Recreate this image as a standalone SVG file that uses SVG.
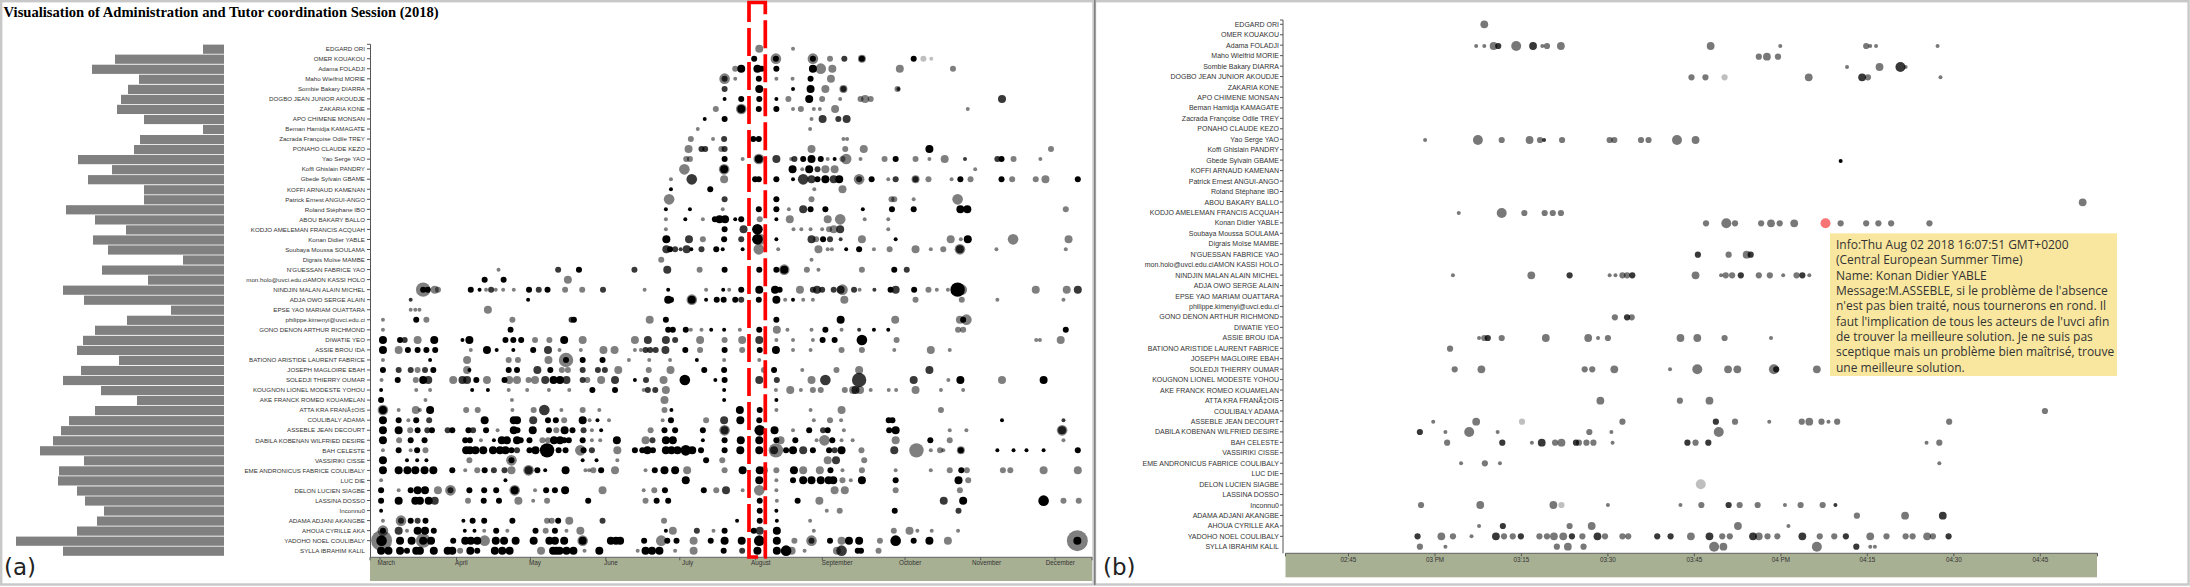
<svg xmlns="http://www.w3.org/2000/svg" xmlns:xlink="http://www.w3.org/1999/xlink" width="2190" height="587" viewBox="0 0 2190 587">
<style>
text{font-family:"Liberation Sans",Arial,sans-serif;fill:#333}
.title{font-family:"Liberation Serif","Times New Roman",serif;font-weight:bold;font-size:14.6px;fill:#000}
.nl{font-size:6.2px;text-anchor:end}
.nr{font-size:7px;text-anchor:end}
.mo{font-size:6.3px}
.tl{font-size:6.3px;text-anchor:middle}
.pl{font-family:"DejaVu Sans",sans-serif;font-size:23px;fill:#222}
.dots{fill:#000;fill-opacity:.5}
.dots.rb{fill-opacity:.53}
.k{fill-opacity:1}.m{fill-opacity:.78}.l{fill-opacity:.25}
.bar{fill:#808080}
.ax{stroke:#555;stroke-width:1;fill:none}
.band{fill:#a8b094}
.frame{fill:none;stroke:#c8c8c8;stroke-width:2.4}
.tip text{font-family:"Open Sans",sans-serif;font-size:12px;fill:#333}
</style>
<defs>
<ellipse id="a" rx="4.3" ry="6"/>
<ellipse id="b" rx="6.5" ry="9"/>
<ellipse id="c" rx="8.65" ry="12"/>
<ellipse id="d" rx="11.5" ry="15.9"/>
<ellipse id="e" rx="15.6" ry="21.6"/>
<ellipse id="f" rx="22.7" ry="31.5"/>
<ellipse id="A" rx="3.45" ry="6"/>
<ellipse id="B" rx="5.35" ry="9.3"/>
<ellipse id="C" rx="6.7" ry="11.7"/>
<ellipse id="D" rx="8.6" ry="15"/>
</defs>
<rect width="2190" height="587" fill="#fff"/>

<g id="panel-a">
<rect class="frame" x="1.2" y="1.2" width="1092.3" height="583.3"/>
<text class="title" x="3.6" y="16.7">Visualisation of Administration and Tutor coordination Session (2018)</text>
<g id="bars-a" class="bar">
<rect x="203" y="44.6" width="21" height="9.2"/>
<rect x="115" y="54.6" width="109" height="9.2"/>
<rect x="92" y="64.7" width="132" height="9.2"/>
<rect x="139" y="74.7" width="85" height="9.2"/>
<rect x="128" y="84.8" width="96" height="9.2"/>
<rect x="121" y="94.8" width="103" height="9.2"/>
<rect x="117" y="104.8" width="107" height="9.2"/>
<rect x="144" y="114.9" width="80" height="9.2"/>
<rect x="203" y="124.9" width="21" height="9.2"/>
<rect x="140" y="135" width="84" height="9.2"/>
<rect x="134" y="145" width="90" height="9.2"/>
<rect x="78" y="155" width="146" height="9.2"/>
<rect x="112" y="165.1" width="112" height="9.2"/>
<rect x="88" y="175.1" width="136" height="9.2"/>
<rect x="144" y="185.2" width="80" height="9.2"/>
<rect x="144" y="195.2" width="80" height="9.2"/>
<rect x="66" y="205.2" width="158" height="9.2"/>
<rect x="95" y="215.3" width="129" height="9.2"/>
<rect x="126" y="225.3" width="98" height="9.2"/>
<rect x="93" y="235.4" width="131" height="9.2"/>
<rect x="108" y="245.4" width="116" height="9.2"/>
<rect x="183" y="255.4" width="41" height="9.2"/>
<rect x="102" y="265.5" width="122" height="9.2"/>
<rect x="148" y="275.5" width="76" height="9.2"/>
<rect x="63" y="285.6" width="161" height="9.2"/>
<rect x="84" y="295.6" width="140" height="9.2"/>
<rect x="171" y="305.6" width="53" height="9.2"/>
<rect x="127" y="315.7" width="97" height="9.2"/>
<rect x="95" y="325.7" width="129" height="9.2"/>
<rect x="83" y="335.8" width="141" height="9.2"/>
<rect x="77" y="345.8" width="147" height="9.2"/>
<rect x="119" y="355.8" width="105" height="9.2"/>
<rect x="81" y="365.9" width="143" height="9.2"/>
<rect x="63" y="375.9" width="161" height="9.2"/>
<rect x="101" y="386" width="123" height="9.2"/>
<rect x="137" y="396" width="87" height="9.2"/>
<rect x="95" y="406" width="129" height="9.2"/>
<rect x="69" y="416.1" width="155" height="9.2"/>
<rect x="61" y="426.1" width="163" height="9.2"/>
<rect x="53" y="436.2" width="171" height="9.2"/>
<rect x="40" y="446.2" width="184" height="9.2"/>
<rect x="84" y="456.2" width="140" height="9.2"/>
<rect x="59" y="466.3" width="165" height="9.2"/>
<rect x="58" y="476.3" width="166" height="9.2"/>
<rect x="77" y="486.4" width="147" height="9.2"/>
<rect x="85" y="496.4" width="139" height="9.2"/>
<rect x="104" y="506.4" width="120" height="9.2"/>
<rect x="97" y="516.5" width="127" height="9.2"/>
<rect x="77" y="526.5" width="147" height="9.2"/>
<rect x="16" y="536.6" width="208" height="9.2"/>
<rect x="63" y="546.6" width="161" height="9.2"/>
</g>
<g id="names-a">
<text class="nl" x="365" y="50.9">EDGARD ORI</text>
<text class="nl" x="365" y="60.9">OMER KOUAKOU</text>
<text class="nl" x="365" y="71">Adama FOLADJI</text>
<text class="nl" x="365" y="81">Maho Wielfrid MORIE</text>
<text class="nl" x="365" y="91.1">Sombie Bakary DIARRA</text>
<text class="nl" x="365" y="101.1">DOGBO JEAN JUNIOR AKOUDJE</text>
<text class="nl" x="365" y="111.1">ZAKARIA KONE</text>
<text class="nl" x="365" y="121.2">APO CHIMENE MONSAN</text>
<text class="nl" x="365" y="131.2">Beman Hamidja KAMAGATE</text>
<text class="nl" x="365" y="141.3">Zacrada Françoise Odile TREY</text>
<text class="nl" x="365" y="151.3">PONAHO CLAUDE KEZO</text>
<text class="nl" x="365" y="161.3">Yao Serge YAO</text>
<text class="nl" x="365" y="171.4">Koffi Ghislain PANDRY</text>
<text class="nl" x="365" y="181.4">Gbede Sylvain GBAME</text>
<text class="nl" x="365" y="191.5">KOFFI ARNAUD KAMENAN</text>
<text class="nl" x="365" y="201.5">Patrick Ernest ANGUI-ANGO</text>
<text class="nl" x="365" y="211.5">Roland Stéphane IBO</text>
<text class="nl" x="365" y="221.6">ABOU BAKARY BALLO</text>
<text class="nl" x="365" y="231.6">KODJO AMELEMAN FRANCIS ACQUAH</text>
<text class="nl" x="365" y="241.7">Konan Didier YABLE</text>
<text class="nl" x="365" y="251.7">Soubaya Moussa SOULAMA</text>
<text class="nl" x="365" y="261.7">Digrais Moïse MAMBE</text>
<text class="nl" x="365" y="271.8">N'GUESSAN FABRICE YAO</text>
<text class="nl" x="365" y="281.8">mon.holo@uvci.edu.ciAMON KASSI HOLO</text>
<text class="nl" x="365" y="291.9">NINDJIN MALAN ALAIN MICHEL</text>
<text class="nl" x="365" y="301.9">ADJA OWO SERGE ALAIN</text>
<text class="nl" x="365" y="311.9">EPSE YAO MARIAM OUATTARA</text>
<text class="nl" x="365" y="322">philippe.kimenyi@uvci.edu.ci</text>
<text class="nl" x="365" y="332">GONO DENON ARTHUR RICHMOND</text>
<text class="nl" x="365" y="342.1">DIWATIE YEO</text>
<text class="nl" x="365" y="352.1">ASSIE BROU IDA</text>
<text class="nl" x="365" y="362.1">BATIONO ARISTIDE LAURENT FABRICE</text>
<text class="nl" x="365" y="372.2">JOSEPH MAGLOIRE EBAH</text>
<text class="nl" x="365" y="382.2">SOLEDJI THIERRY OUMAR</text>
<text class="nl" x="365" y="392.3">KOUGNON LIONEL MODESTE YOHOU</text>
<text class="nl" x="365" y="402.3">AKE FRANCK ROMEO KOUAMELAN</text>
<text class="nl" x="365" y="412.3">ATTA KRA FRANÃ‡OIS</text>
<text class="nl" x="365" y="422.4">COULIBALY ADAMA</text>
<text class="nl" x="365" y="432.4">ASSEBLE JEAN DECOURT</text>
<text class="nl" x="365" y="442.5">DABILA KOBENAN WILFRIED DESIRE</text>
<text class="nl" x="365" y="452.5">BAH CELESTE</text>
<text class="nl" x="365" y="462.5">VASSIRIKI CISSE</text>
<text class="nl" x="365" y="472.6">EME ANDRONICUS FABRICE COULIBALY</text>
<text class="nl" x="365" y="482.6">LUC DIE</text>
<text class="nl" x="365" y="492.7">DELON LUCIEN SIAGBE</text>
<text class="nl" x="365" y="502.7">LASSINA DOSSO</text>
<text class="nl" x="365" y="512.7">Inconnu0</text>
<text class="nl" x="365" y="522.8">ADAMA ADJANI AKANGBE</text>
<text class="nl" x="365" y="532.8">AHOUA CYRILLE AKA</text>
<text class="nl" x="365" y="542.9">YADOHO NOEL COULIBALY</text>
<text class="nl" x="365" y="552.9">SYLLA IBRAHIM KALIL</text>
</g>
<g id="axes-a">
<path class="ax" d="M367,44.3H370.5V557.3"/>
<path class="ax" d="M367,48.7h3m-3,10.04h3m-3,10.04h3m-3,10.04h3m-3,10.04h3m-3,10.04h3m-3,10.04h3m-3,10.04h3m-3,10.04h3m-3,10.04h3m-3,10.04h3m-3,10.04h3m-3,10.04h3m-3,10.04h3m-3,10.04h3m-3,10.04h3m-3,10.04h3m-3,10.04h3m-3,10.04h3m-3,10.04h3m-3,10.04h3m-3,10.04h3m-3,10.04h3m-3,10.04h3m-3,10.04h3m-3,10.04h3m-3,10.04h3m-3,10.04h3m-3,10.04h3m-3,10.04h3m-3,10.04h3m-3,10.04h3m-3,10.04h3m-3,10.04h3m-3,10.04h3m-3,10.04h3m-3,10.04h3m-3,10.04h3m-3,10.04h3m-3,10.04h3m-3,10.04h3m-3,10.04h3m-3,10.04h3m-3,10.04h3m-3,10.04h3m-3,10.04h3m-3,10.04h3m-3,10.04h3m-3,10.04h3m-3,10.04h3"/>
<rect class="band" x="370" y="558" width="722" height="23"/>
<path class="ax" d="M370,560.3V557.3H1092V560.3M380,557.3v3M456.5,557.3v3M530.4,557.3v3M605.8,557.3v3M679.8,557.3v3M755.7,557.3v3M822.3,557.3v3M905,557.3v3M980.7,557.3v3M1055,557.3v3"/>
<text class="mo" x="377.5" y="565.3">March</text>
<text class="mo" x="455" y="565.3">April</text>
<text class="mo" x="529" y="565.3">May</text>
<text class="mo" x="604" y="565.3">June</text>
<text class="mo" x="682" y="565.3">July</text>
<text class="mo" x="751" y="565.3">August</text>
<text class="mo" x="821.7" y="565.3">September</text>
<text class="mo" x="899" y="565.3">October</text>
<text class="mo" x="972" y="565.3">November</text>
<text class="mo" x="1045.7" y="565.3">December</text>
</g>
<g id="dots-a-top" class="dots" transform="translate(370,30) scale(0.46232,0.33333)">
<g transform="translate(0,56)"><use href="#c" x="842"/><use href="#a" x="915"/></g>
<g transform="translate(0,86)"><use href="#b" x="831" class="k"/><use href="#d" x="878"/><use href="#b" x="878" class="k"/><use href="#d" x="958"/><use href="#b" x="958" class="k"/><use href="#b" x="995"/><use href="#b" x="1026" class="m"/><use href="#c" x="1064"/><use href="#b" x="1064" class="k"/><use href="#b" x="1176" class="k"/><use href="#b" x="1197" class="l"/><use href="#a" x="1214" class="l"/></g>
<g transform="translate(0,116)"><use href="#b" x="790"/><use href="#c" x="803" class="k"/><use href="#c" x="838" class="k"/><use href="#b" x="847" class="k"/><use href="#b" x="879" class="k"/><use href="#c" x="958" class="k"/><use href="#d" x="975"/><use href="#c" x="1000"/><use href="#c" x="1146"/><use href="#b" x="1261"/></g>
<g transform="translate(0,146)"><use href="#d" x="767"/><use href="#b" x="767" class="m"/><use href="#a" x="790"/><use href="#b" x="841" class="k"/><use href="#a" x="879"/><use href="#a" x="914"/><use href="#b" x="953" class="k"/><use href="#c" x="997"/></g>
<g transform="translate(0,177)"><use href="#b" x="767" class="m"/><use href="#c" x="842" class="k"/><use href="#a" x="915" class="k"/><use href="#c" x="953" class="k"/><use href="#c" x="985"/><use href="#c" x="1024"/><use href="#b" x="1024" class="m"/><use href="#b" x="1141"/><use href="#a" x="1143" class="m"/></g>
<g transform="translate(0,207)"><use href="#a" x="767" class="k"/><use href="#b" x="803" class="k"/><use href="#b" x="842" class="k"/><use href="#a" x="879" class="k"/><use href="#b" x="905"/><use href="#c" x="950" class="k"/><use href="#b" x="978"/><use href="#a" x="1017"/><use href="#b" x="1061"/><use href="#c" x="1071"/><use href="#b" x="1083"/><use href="#c" x="1367" class="m"/></g>
<g transform="translate(0,237)"><use href="#b" x="748"/><use href="#d" x="803"/><use href="#c" x="803" class="k"/><use href="#b" x="841" class="k"/><use href="#b" x="879" class="k"/><use href="#a" x="915"/><use href="#b" x="932"/><use href="#a" x="960"/><use href="#a" x="973"/><use href="#c" x="1006"/><use href="#a" x="1293"/></g>
<g transform="translate(0,267)"><use href="#a" x="724" class="k"/><use href="#b" x="767" class="k"/><use href="#a" x="955"/><use href="#c" x="979" class="m"/><use href="#b" x="1013" class="m"/><use href="#c" x="1031" class="m"/></g>
<g transform="translate(0,297)"><use href="#a" x="709"/><use href="#a" x="952"/></g>
<g transform="translate(0,327)"><use href="#b" x="694"/><use href="#a" x="742"/><use href="#b" x="766" class="m"/><use href="#b" x="829" class="k"/><use href="#b" x="841" class="k"/><use href="#a" x="1024"/><use href="#a" x="1032"/></g>
<g transform="translate(0,357)"><use href="#c" x="689"/><use href="#b" x="717" class="m"/><use href="#b" x="725" class="m"/><use href="#b" x="760"/><use href="#b" x="767" class="m"/><use href="#c" x="955"/><use href="#b" x="1028"/><use href="#c" x="1068"/><use href="#c" x="1210" class="k"/><use href="#b" x="1473"/></g>
<g transform="translate(0,387)"><use href="#b" x="684"/><use href="#b" x="692"/><use href="#b" x="767" class="k"/><use href="#a" x="806"/><use href="#d" x="841"/><use href="#c" x="841" class="k"/><use href="#c" x="879" class="m"/><use href="#a" x="911"/><use href="#b" x="918" class="m"/><use href="#b" x="937" class="k"/><use href="#c" x="955" class="k"/><use href="#b" x="975" class="k"/><use href="#a" x="990"/><use href="#a" x="1005" class="k"/><use href="#b" x="1022"/><use href="#d" x="1030"/><use href="#a" x="1061"/><use href="#b" x="1113"/><use href="#b" x="1137" class="k"/><use href="#b" x="1180"/><use href="#a" x="1210"/><use href="#c" x="1243"/><use href="#a" x="1287" class="m"/><use href="#b" x="1357" class="m"/><use href="#b" x="1366" class="k"/><use href="#b" x="1392"/><use href="#a" x="1450"/></g>
<g transform="translate(0,418)"><use href="#d" x="680"/><use href="#d" x="766"/><use href="#c" x="766" class="k"/><use href="#c" x="914" class="k"/><use href="#a" x="935"/><use href="#c" x="950" class="k"/><use href="#b" x="968" class="m"/><use href="#c" x="985"/><use href="#c" x="1005"/><use href="#a" x="1309"/></g>
<g transform="translate(0,448)"><use href="#a" x="651"/><use href="#d" x="696" class="m"/><use href="#c" x="766"/><use href="#b" x="833" class="k"/><use href="#b" x="841" class="k"/><use href="#b" x="879" class="k"/><use href="#a" x="915" class="k"/><use href="#d" x="937" class="m"/><use href="#c" x="955" class="m"/><use href="#b" x="968" class="k"/><use href="#c" x="985" class="k"/><use href="#c" x="1003" class="m"/><use href="#c" x="1015" class="k"/><use href="#d" x="1058"/><use href="#b" x="1058" class="m"/><use href="#b" x="1085" class="k"/><use href="#a" x="1121"/><use href="#b" x="1137" class="m"/><use href="#c" x="1180"/><use href="#b" x="1180" class="m"/><use href="#b" x="1208"/><use href="#a" x="1258"/><use href="#b" x="1277" class="k"/><use href="#b" x="1299"/><use href="#b" x="1366" class="k"/><use href="#b" x="1389"/><use href="#b" x="1440"/><use href="#c" x="1461"/><use href="#b" x="1531" class="k"/></g>
<g transform="translate(0,478)"><use href="#a" x="651" class="k"/><use href="#b" x="736" class="k"/><use href="#a" x="961"/><use href="#c" x="1022"/></g>
<g transform="translate(0,508)"><use href="#d" x="647"/><use href="#b" x="767" class="m"/><use href="#b" x="879" class="k"/><use href="#b" x="955"/><use href="#b" x="1128"/><use href="#b" x="1134"/><use href="#a" x="1176"/><use href="#d" x="1271"/></g>
<g transform="translate(0,538)"><use href="#a" x="640" class="k"/><use href="#a" x="692" class="k"/><use href="#a" x="763"/><use href="#b" x="841" class="k"/><use href="#b" x="879" class="k"/><use href="#a" x="906"/><use href="#c" x="937" class="m"/><use href="#b" x="953" class="k"/><use href="#b" x="985" class="k"/><use href="#a" x="1066" class="k"/><use href="#b" x="1129" class="k"/><use href="#b" x="1176" class="k"/><use href="#c" x="1277" class="k"/><use href="#c" x="1292" class="k"/><use href="#b" x="1505"/></g>
<g transform="translate(0,568)"><use href="#a" x="640"/><use href="#a" x="682" class="k"/><use href="#a" x="720"/><use href="#b" x="746" class="k"/><use href="#c" x="756" class="k"/><use href="#c" x="768" class="k"/><use href="#a" x="790" class="k"/><use href="#b" x="803" class="k"/><use href="#b" x="843"/><use href="#a" x="879" class="k"/><use href="#c" x="908"/><use href="#c" x="990"/><use href="#d" x="1017"/><use href="#a" x="1070"/><use href="#a" x="1121"/></g>
<g transform="translate(0,598)"><use href="#a" x="640"/><use href="#b" x="767" class="k"/><use href="#c" x="808" class="m"/><use href="#d" x="838" class="k"/><use href="#a" x="916"/><use href="#a" x="933"/><use href="#a" x="953"/><use href="#a" x="978"/><use href="#b" x="993"/><use href="#c" x="1003"/><use href="#c" x="1017" class="m"/><use href="#a" x="1121"/></g>
<g transform="translate(0,628)"><use href="#c" x="641" class="k"/><use href="#c" x="690" class="m"/><use href="#b" x="720"/><use href="#b" x="766" class="k"/><use href="#b" x="803" class="m"/><use href="#d" x="838" class="k"/><use href="#d" x="845"/><use href="#a" x="879" class="k"/><use href="#c" x="955" class="m"/><use href="#b" x="965"/><use href="#b" x="980" class="k"/><use href="#b" x="995" class="m"/><use href="#a" x="1018" class="m"/><use href="#c" x="1064"/><use href="#a" x="1137" class="k"/><use href="#c" x="1256"/><use href="#a" x="1278"/><use href="#c" x="1293" class="k"/><use href="#d" x="1391"/><use href="#c" x="1511"/></g>
<g transform="translate(0,658)"><use href="#c" x="641" class="m"/><use href="#b" x="649" class="k"/><use href="#b" x="660" class="m"/><use href="#a" x="672" class="m"/><use href="#c" x="685" class="m"/><use href="#a" x="695" class="k"/><use href="#b" x="717" class="m"/><use href="#b" x="749" class="k"/><use href="#a" x="763" class="k"/><use href="#a" x="806" class="k"/><use href="#d" x="841"/><use href="#a" x="883"/><use href="#c" x="970"/><use href="#a" x="990"/><use href="#a" x="999"/><use href="#a" x="1030" class="k"/><use href="#b" x="1058" class="k"/><use href="#a" x="1090"/><use href="#b" x="1124"/><use href="#c" x="1180"/><use href="#a" x="1213"/><use href="#b" x="1240"/><use href="#d" x="1276"/><use href="#c" x="1276" class="m"/><use href="#a" x="1355"/><use href="#a" x="1505"/></g>
<g transform="translate(0,689)"><use href="#b" x="630"/><use href="#a" x="955"/></g>
<g transform="translate(0,719)"><use href="#a" x="278"/><use href="#b" x="407" class="m"/><use href="#b" x="452" class="k"/><use href="#b" x="572" class="m"/><use href="#c" x="643" class="m"/><use href="#b" x="713"/><use href="#b" x="767" class="k"/><use href="#b" x="842" class="k"/><use href="#b" x="879" class="k"/><use href="#d" x="896"/><use href="#c" x="896" class="k"/><use href="#b" x="945"/><use href="#a" x="970"/><use href="#b" x="1064"/><use href="#b" x="1134" class="k"/><use href="#b" x="1161" class="m"/></g>
<g transform="translate(0,749)"><use href="#b" x="248" class="k"/><use href="#b" x="289" class="k"/><use href="#c" x="428"/></g>
<g transform="translate(0,779)"><use href="#e" x="115"/><use href="#b" x="115" class="k"/><use href="#b" x="125" class="k"/><use href="#c" x="140"/><use href="#b" x="147"/><use href="#b" x="218" class="k"/><use href="#a" x="237" class="k"/><use href="#a" x="251"/><use href="#b" x="262" class="m"/><use href="#a" x="272"/><use href="#a" x="288"/><use href="#a" x="311"/><use href="#b" x="344" class="k"/><use href="#b" x="365" class="m"/><use href="#b" x="384" class="k"/><use href="#b" x="422"/><use href="#b" x="459"/><use href="#b" x="504" class="m"/><use href="#a" x="594"/><use href="#a" x="645" class="k"/><use href="#a" x="727"/><use href="#a" x="764" class="k"/><use href="#a" x="777"/><use href="#b" x="803" class="k"/><use href="#c" x="842" class="k"/><use href="#c" x="876" class="k"/><use href="#b" x="886" class="k"/><use href="#c" x="930"/><use href="#b" x="958" class="m"/><use href="#c" x="967" class="m"/><use href="#b" x="978" class="m"/><use href="#b" x="1003" class="m"/><use href="#c" x="1018" class="m"/><use href="#d" x="1022"/><use href="#b" x="1047" class="m"/><use href="#a" x="1059"/><use href="#a" x="1091" class="m"/><use href="#b" x="1126" class="k"/><use href="#c" x="1137" class="m"/><use href="#b" x="1177" class="k"/><use href="#b" x="1208"/><use href="#a" x="1226"/><use href="#a" x="1250"/><use href="#e" x="1271" class="k"/><use href="#d" x="1280"/><use href="#c" x="1440"/><use href="#c" x="1507"/><use href="#c" x="1531" class="m"/></g>
</g>
<g id="dots-a-bottom" class="dots" transform="translate(370,290) scale(0.46232,0.33333)">
<g transform="translate(0,29)"><use href="#a" x="88" class="m"/><use href="#a" x="342" class="k"/><use href="#c" x="645" class="k"/><use href="#b" x="651" class="k"/><use href="#d" x="696"/><use href="#c" x="696" class="k"/><use href="#a" x="727" class="k"/><use href="#b" x="750" class="k"/><use href="#b" x="765" class="k"/><use href="#b" x="790" class="k"/><use href="#b" x="803" class="m"/><use href="#b" x="841" class="k"/><use href="#c" x="879" class="k"/><use href="#a" x="898"/><use href="#a" x="915" class="k"/><use href="#a" x="937"/><use href="#a" x="958"/><use href="#c" x="1026"/><use href="#b" x="1180"/><use href="#b" x="1280"/><use href="#a" x="1357"/><use href="#a" x="1500"/></g>
<g transform="translate(0,59)"><use href="#a" x="88"/><use href="#a" x="98"/><use href="#a" x="107"/><use href="#c" x="255"/></g>
<g transform="translate(0,89)"><use href="#a" x="28"/><use href="#b" x="100" class="k"/><use href="#b" x="122"/><use href="#b" x="308"/><use href="#b" x="436" class="m"/><use href="#b" x="441" class="k"/><use href="#c" x="605"/><use href="#b" x="640" class="k"/><use href="#b" x="879" class="k"/><use href="#c" x="1018" class="k"/><use href="#c" x="1136"/><use href="#c" x="1276"/><use href="#d" x="1290"/><use href="#b" x="1283" class="k"/></g>
<g transform="translate(0,119)"><use href="#a" x="28"/><use href="#b" x="304" class="k"/><use href="#b" x="645" class="k"/><use href="#b" x="655" class="k"/><use href="#b" x="683" class="k"/><use href="#a" x="694"/><use href="#a" x="717"/><use href="#a" x="738" class="k"/><use href="#a" x="766" class="k"/><use href="#a" x="800"/><use href="#b" x="842" class="k"/><use href="#c" x="880"/><use href="#a" x="903"/><use href="#a" x="955"/><use href="#b" x="985" class="k"/><use href="#a" x="1020"/><use href="#a" x="1058" class="m"/><use href="#a" x="1090" class="k"/><use href="#a" x="1121" class="k"/><use href="#b" x="1272"/><use href="#b" x="1283"/><use href="#b" x="1505" class="k"/></g>
<g transform="translate(0,150)"><use href="#c" x="28" class="k"/><use href="#b" x="65" class="k"/><use href="#b" x="75" class="m"/><use href="#c" x="103"/><use href="#c" x="139" class="k"/><use href="#a" x="200" class="k"/><use href="#c" x="215" class="k"/><use href="#b" x="293" class="k"/><use href="#b" x="310" class="k"/><use href="#b" x="327" class="k"/><use href="#b" x="357"/><use href="#b" x="388"/><use href="#c" x="420" class="k"/><use href="#c" x="460"/><use href="#c" x="573"/><use href="#c" x="601" class="m"/><use href="#c" x="640" class="m"/><use href="#b" x="660" class="m"/><use href="#c" x="714"/><use href="#b" x="767"/><use href="#c" x="805"/><use href="#c" x="842" class="m"/><use href="#a" x="879"/><use href="#a" x="915"/><use href="#a" x="958"/><use href="#b" x="979" class="k"/><use href="#b" x="1005" class="k"/><use href="#d" x="1064" class="k"/><use href="#b" x="1139"/><use href="#a" x="1441"/><use href="#a" x="1449"/><use href="#c" x="1494"/></g>
<g transform="translate(0,180)"><use href="#c" x="28" class="k"/><use href="#c" x="62"/><use href="#b" x="82" class="k"/><use href="#b" x="103" class="k"/><use href="#b" x="122" class="k"/><use href="#b" x="141" class="k"/><use href="#a" x="218"/><use href="#c" x="253" class="k"/><use href="#a" x="274" class="k"/><use href="#a" x="310" class="k"/><use href="#b" x="353" class="k"/><use href="#c" x="385" class="m"/><use href="#a" x="410"/><use href="#a" x="456"/><use href="#c" x="505"/><use href="#c" x="529"/><use href="#a" x="573"/><use href="#a" x="586"/><use href="#b" x="596" class="m"/><use href="#b" x="606" class="m"/><use href="#b" x="618" class="m"/><use href="#c" x="639" class="m"/><use href="#b" x="682" class="k"/><use href="#b" x="714"/><use href="#b" x="767" class="k"/><use href="#b" x="805"/><use href="#b" x="843" class="k"/><use href="#c" x="878" class="k"/><use href="#a" x="915"/><use href="#a" x="953"/><use href="#b" x="1020"/><use href="#b" x="1064"/><use href="#a" x="1134"/><use href="#c" x="1213"/><use href="#a" x="1254"/></g>
<g transform="translate(0,210)"><use href="#a" x="28"/><use href="#a" x="130" class="k"/><use href="#c" x="210"/><use href="#b" x="300"/><use href="#b" x="320"/><use href="#c" x="386"/><use href="#e" x="424"/><use href="#b" x="424" class="k"/><use href="#b" x="460" class="k"/><use href="#b" x="503" class="k"/><use href="#a" x="560"/><use href="#a" x="604"/><use href="#a" x="649"/><use href="#a" x="707" class="k"/><use href="#a" x="766"/><use href="#a" x="842"/></g>
<g transform="translate(0,240)"><use href="#b" x="28" class="k"/><use href="#b" x="62" class="m"/><use href="#b" x="88" class="m"/><use href="#b" x="103"/><use href="#b" x="119" class="m"/><use href="#b" x="137" class="k"/><use href="#c" x="210"/><use href="#a" x="215" class="k"/><use href="#b" x="300" class="k"/><use href="#b" x="318" class="k"/><use href="#c" x="362" class="m"/><use href="#b" x="390" class="k"/><use href="#b" x="415"/><use href="#b" x="428"/><use href="#b" x="460" class="m"/><use href="#b" x="493" class="m"/><use href="#b" x="508" class="m"/><use href="#c" x="537"/><use href="#b" x="603"/><use href="#c" x="650"/><use href="#b" x="723" class="k"/><use href="#b" x="766" class="k"/><use href="#b" x="852"/><use href="#b" x="874" class="k"/><use href="#a" x="935"/><use href="#b" x="1009"/><use href="#c" x="1058"/><use href="#c" x="1210" class="m"/></g>
<g transform="translate(0,270)"><use href="#a" x="25"/><use href="#b" x="60" class="k"/><use href="#b" x="99"/><use href="#c" x="115" class="k"/><use href="#c" x="126" class="m"/><use href="#c" x="180"/><use href="#c" x="200" class="m"/><use href="#c" x="210" class="m"/><use href="#b" x="230" class="k"/><use href="#c" x="253"/><use href="#b" x="291" class="k"/><use href="#c" x="301"/><use href="#c" x="318"/><use href="#b" x="343"/><use href="#c" x="357"/><use href="#c" x="379" class="m"/><use href="#c" x="397" class="k"/><use href="#c" x="411" class="k"/><use href="#c" x="425" class="m"/><use href="#b" x="460" class="m"/><use href="#b" x="470"/><use href="#c" x="500"/><use href="#c" x="530" class="m"/><use href="#a" x="573" class="k"/><use href="#b" x="597" class="m"/><use href="#c" x="635"/><use href="#d" x="681" class="k"/><use href="#a" x="747" class="k"/><use href="#b" x="767" class="k"/><use href="#c" x="842" class="m"/><use href="#b" x="880" class="m"/><use href="#c" x="955"/><use href="#d" x="985" class="m"/><use href="#e" x="1058" class="m"/><use href="#c" x="1176" class="m"/><use href="#a" x="1251"/><use href="#c" x="1277" class="k"/><use href="#c" x="1367"/><use href="#c" x="1457" class="k"/></g>
<g transform="translate(0,300)"><use href="#a" x="24" class="k"/><use href="#a" x="100"/><use href="#a" x="130"/><use href="#a" x="221" class="k"/><use href="#a" x="255" class="k"/><use href="#a" x="300"/><use href="#a" x="340"/><use href="#a" x="387"/><use href="#a" x="431"/><use href="#b" x="481" class="k"/><use href="#b" x="530" class="k"/><use href="#a" x="592"/><use href="#b" x="601" class="m"/><use href="#b" x="617" class="m"/><use href="#c" x="640"/><use href="#a" x="766" class="k"/><use href="#a" x="878"/><use href="#c" x="909"/><use href="#a" x="932"/><use href="#b" x="958"/><use href="#b" x="975"/><use href="#b" x="1027"/><use href="#c" x="1045"/><use href="#c" x="1050" class="m"/><use href="#c" x="1060"/><use href="#a" x="1083"/><use href="#a" x="1122"/><use href="#a" x="1138"/><use href="#c" x="1180"/><use href="#a" x="1235"/><use href="#a" x="1283"/></g>
<g transform="translate(0,330)"><use href="#b" x="24" class="k"/><use href="#a" x="120"/><use href="#a" x="307"/><use href="#c" x="637"/><use href="#a" x="766" class="k"/><use href="#a" x="879" class="k"/></g>
<g transform="translate(0,360)"><use href="#d" x="28"/><use href="#c" x="28" class="k"/><use href="#a" x="62"/><use href="#c" x="99"/><use href="#a" x="108"/><use href="#c" x="130" class="k"/><use href="#b" x="208"/><use href="#b" x="233"/><use href="#a" x="308"/><use href="#b" x="354"/><use href="#d" x="377" class="m"/><use href="#a" x="414"/><use href="#b" x="460"/><use href="#a" x="496"/><use href="#b" x="637"/><use href="#a" x="652" class="k"/><use href="#c" x="800" class="k"/><use href="#b" x="843" class="k"/><use href="#a" x="879"/><use href="#a" x="953"/><use href="#c" x="1020"/><use href="#b" x="1235"/></g>
<g transform="translate(0,391)"><use href="#c" x="28" class="k"/><use href="#b" x="62" class="k"/><use href="#a" x="83"/><use href="#b" x="100" class="k"/><use href="#b" x="128" class="m"/><use href="#c" x="248" class="k"/><use href="#c" x="311" class="k"/><use href="#c" x="318" class="k"/><use href="#c" x="353" class="m"/><use href="#b" x="385" class="k"/><use href="#b" x="402" class="k"/><use href="#b" x="420"/><use href="#c" x="460" class="k"/><use href="#a" x="475"/><use href="#a" x="492" class="k"/><use href="#a" x="517"/><use href="#a" x="633"/><use href="#b" x="651" class="k"/><use href="#b" x="727"/><use href="#c" x="766" class="m"/><use href="#c" x="801" class="k"/><use href="#b" x="842" class="k"/><use href="#a" x="960"/><use href="#b" x="995"/><use href="#a" x="1019"/><use href="#b" x="1122" class="k"/><use href="#b" x="1130" class="k"/><use href="#a" x="1367" class="k"/><use href="#a" x="1500" class="m"/></g>
<g transform="translate(0,421)"><use href="#c" x="28" class="k"/><use href="#c" x="62" class="k"/><use href="#b" x="87"/><use href="#b" x="103" class="k"/><use href="#b" x="124" class="m"/><use href="#b" x="134" class="k"/><use href="#b" x="168" class="m"/><use href="#b" x="178" class="k"/><use href="#b" x="213" class="k"/><use href="#b" x="223" class="m"/><use href="#b" x="251" class="k"/><use href="#a" x="276"/><use href="#c" x="311" class="k"/><use href="#b" x="319" class="k"/><use href="#c" x="352" class="k"/><use href="#b" x="387" class="k"/><use href="#b" x="403"/><use href="#c" x="421" class="k"/><use href="#b" x="438" class="k"/><use href="#b" x="462" class="m"/><use href="#a" x="480"/><use href="#a" x="500" class="k"/><use href="#b" x="607"/><use href="#b" x="637" class="k"/><use href="#b" x="660" class="k"/><use href="#b" x="720" class="k"/><use href="#d" x="767"/><use href="#c" x="767" class="m"/><use href="#d" x="843" class="k"/><use href="#c" x="875" class="k"/><use href="#a" x="915"/><use href="#b" x="950" class="k"/><use href="#b" x="980" class="m"/><use href="#b" x="990" class="k"/><use href="#a" x="1025"/><use href="#b" x="1123" class="k"/><use href="#c" x="1137" class="k"/><use href="#a" x="1254"/><use href="#a" x="1290"/><use href="#d" x="1497"/><use href="#c" x="1497" class="m"/></g>
<g transform="translate(0,451)"><use href="#c" x="28" class="k"/><use href="#b" x="63"/><use href="#b" x="88" class="k"/><use href="#b" x="118" class="k"/><use href="#b" x="206" class="k"/><use href="#b" x="216" class="k"/><use href="#a" x="240"/><use href="#a" x="268" class="k"/><use href="#c" x="285" class="k"/><use href="#c" x="296" class="k"/><use href="#c" x="318" class="k"/><use href="#b" x="326" class="k"/><use href="#b" x="345" class="k"/><use href="#b" x="373"/><use href="#b" x="385"/><use href="#c" x="398" class="k"/><use href="#c" x="411" class="k"/><use href="#b" x="420" class="k"/><use href="#b" x="430" class="k"/><use href="#b" x="460" class="k"/><use href="#a" x="480"/><use href="#a" x="498"/><use href="#c" x="534" class="k"/><use href="#c" x="596"/><use href="#b" x="611" class="m"/><use href="#c" x="640" class="k"/><use href="#c" x="655" class="k"/><use href="#a" x="720" class="k"/><use href="#b" x="767" class="k"/><use href="#c" x="802" class="k"/><use href="#c" x="842" class="k"/><use href="#b" x="879" class="k"/><use href="#c" x="888"/><use href="#b" x="920" class="k"/><use href="#a" x="966"/><use href="#d" x="983"/><use href="#b" x="1000" class="k"/><use href="#a" x="1020"/><use href="#a" x="1044"/><use href="#c" x="1137"/><use href="#b" x="1212" class="k"/><use href="#b" x="1254"/><use href="#a" x="1500"/></g>
<g transform="translate(0,481)"><use href="#a" x="28"/><use href="#b" x="62" class="k"/><use href="#a" x="88"/><use href="#b" x="102" class="k"/><use href="#b" x="120"/><use href="#c" x="208" class="k"/><use href="#c" x="216" class="k"/><use href="#c" x="228" class="k"/><use href="#c" x="245" class="k"/><use href="#c" x="266" class="k"/><use href="#c" x="281" class="k"/><use href="#c" x="293" class="k"/><use href="#b" x="306" class="k"/><use href="#b" x="318" class="m"/><use href="#b" x="345" class="k"/><use href="#c" x="358" class="k"/><use href="#e" x="383" class="k"/><use href="#b" x="408" class="k"/><use href="#b" x="423" class="k"/><use href="#d" x="455"/><use href="#b" x="462" class="k"/><use href="#b" x="480" class="m"/><use href="#c" x="535"/><use href="#b" x="573" class="k"/><use href="#b" x="589" class="k"/><use href="#c" x="600" class="k"/><use href="#b" x="612" class="k"/><use href="#c" x="640" class="k"/><use href="#c" x="652" class="k"/><use href="#c" x="665" class="k"/><use href="#d" x="683" class="k"/><use href="#c" x="697" class="k"/><use href="#b" x="716" class="k"/><use href="#b" x="767" class="k"/><use href="#c" x="801" class="k"/><use href="#c" x="842" class="k"/><use href="#c" x="874" class="m"/><use href="#e" x="878"/><use href="#b" x="900" class="k"/><use href="#c" x="915" class="k"/><use href="#c" x="937" class="m"/><use href="#b" x="958" class="k"/><use href="#b" x="993" class="k"/><use href="#b" x="1005" class="m"/><use href="#c" x="1020" class="k"/><use href="#b" x="1063"/><use href="#c" x="1134" class="m"/><use href="#e" x="1182"/><use href="#a" x="1213"/><use href="#b" x="1233"/><use href="#a" x="1240"/><use href="#c" x="1278"/><use href="#b" x="1278" class="k"/><use href="#a" x="1357" class="k"/><use href="#a" x="1392" class="k"/><use href="#a" x="1420" class="k"/><use href="#a" x="1457" class="k"/><use href="#b" x="1531" class="k"/></g>
<g transform="translate(0,511)"><use href="#c" x="28" class="k"/><use href="#a" x="80" class="k"/><use href="#a" x="102" class="k"/><use href="#a" x="122" class="k"/><use href="#b" x="215"/><use href="#d" x="306"/><use href="#b" x="306" class="k"/><use href="#a" x="460" class="k"/><use href="#a" x="490" class="k"/><use href="#a" x="535"/><use href="#b" x="727" class="k"/><use href="#b" x="762"/><use href="#c" x="990"/><use href="#c" x="1008" class="m"/><use href="#b" x="1069"/></g>
<g transform="translate(0,541)"><use href="#c" x="28" class="k"/><use href="#c" x="62" class="k"/><use href="#c" x="81" class="k"/><use href="#c" x="98" class="k"/><use href="#c" x="118" class="k"/><use href="#c" x="137" class="k"/><use href="#b" x="178" class="k"/><use href="#a" x="206"/><use href="#b" x="232"/><use href="#b" x="248" class="k"/><use href="#b" x="268" class="m"/><use href="#b" x="291" class="m"/><use href="#c" x="306"/><use href="#d" x="343"/><use href="#c" x="343" class="m"/><use href="#b" x="362" class="k"/><use href="#a" x="379" class="k"/><use href="#c" x="423" class="k"/><use href="#a" x="466"/><use href="#a" x="474"/><use href="#b" x="483"/><use href="#b" x="500" class="k"/><use href="#c" x="530"/><use href="#a" x="596"/><use href="#b" x="616" class="k"/><use href="#c" x="637" class="k"/><use href="#c" x="660" class="k"/><use href="#c" x="686"/><use href="#b" x="767"/><use href="#c" x="806" class="k"/><use href="#c" x="843" class="k"/><use href="#c" x="852"/><use href="#b" x="879"/><use href="#c" x="917" class="k"/><use href="#c" x="937"/><use href="#c" x="973"/><use href="#b" x="996" class="k"/><use href="#a" x="1022"/><use href="#b" x="1064"/><use href="#a" x="1137"/><use href="#a" x="1213"/><use href="#b" x="1254"/><use href="#b" x="1279" class="k"/><use href="#b" x="1291"/><use href="#b" x="1369"/><use href="#b" x="1385"/><use href="#c" x="1457"/><use href="#c" x="1531"/></g>
<g transform="translate(0,571)"><use href="#a" x="24"/><use href="#a" x="293" class="k"/><use href="#c" x="683" class="k"/><use href="#c" x="842" class="k"/><use href="#a" x="879"/><use href="#b" x="915" class="k"/><use href="#c" x="937" class="k"/><use href="#c" x="955" class="k"/><use href="#c" x="975" class="k"/><use href="#c" x="992" class="k"/><use href="#c" x="1002" class="k"/><use href="#b" x="1022"/><use href="#a" x="1040"/><use href="#c" x="1064" class="k"/><use href="#b" x="1137" class="k"/><use href="#c" x="1273" class="k"/><use href="#b" x="1294"/></g>
<g transform="translate(0,601)"><use href="#b" x="24" class="k"/><use href="#a" x="62"/><use href="#b" x="88" class="k"/><use href="#c" x="103" class="k"/><use href="#c" x="119" class="k"/><use href="#c" x="147"/><use href="#d" x="174"/><use href="#b" x="174" class="m"/><use href="#b" x="215" class="k"/><use href="#b" x="247" class="k"/><use href="#b" x="273" class="k"/><use href="#d" x="313"/><use href="#c" x="313" class="k"/><use href="#a" x="357"/><use href="#b" x="381" class="k"/><use href="#b" x="400" class="k"/><use href="#c" x="422" class="k"/><use href="#c" x="503"/><use href="#a" x="592"/><use href="#b" x="615"/><use href="#b" x="638" class="k"/><use href="#b" x="722" class="k"/><use href="#b" x="749"/><use href="#c" x="770" class="m"/><use href="#a" x="806"/><use href="#d" x="842"/><use href="#a" x="879"/><use href="#c" x="1005"/><use href="#c" x="1027"/><use href="#b" x="1137"/><use href="#b" x="1276"/></g>
<g transform="translate(0,632)"><use href="#b" x="24" class="k"/><use href="#c" x="62" class="k"/><use href="#c" x="98" class="k"/><use href="#c" x="108" class="k"/><use href="#c" x="127" class="k"/><use href="#c" x="140" class="m"/><use href="#b" x="212"/><use href="#b" x="246" class="k"/><use href="#b" x="279" class="k"/><use href="#c" x="321"/><use href="#a" x="353"/><use href="#b" x="383"/><use href="#b" x="472" class="k"/><use href="#b" x="596"/><use href="#b" x="620" class="k"/><use href="#b" x="645" class="k"/><use href="#b" x="843" class="k"/><use href="#a" x="880"/><use href="#b" x="925" class="k"/><use href="#c" x="972"/><use href="#c" x="1241" class="m"/><use href="#c" x="1283" class="k"/><use href="#d" x="1457" class="k"/><use href="#b" x="1500"/><use href="#b" x="1533"/></g>
<g transform="translate(0,662)"><use href="#a" x="24" class="k"/><use href="#b" x="843" class="k"/><use href="#a" x="879" class="k"/><use href="#a" x="988"/><use href="#b" x="1016"/><use href="#b" x="1135" class="k"/><use href="#b" x="1273" class="m"/></g>
<g transform="translate(0,692)"><use href="#a" x="28"/><use href="#d" x="67"/><use href="#b" x="67" class="m"/><use href="#b" x="88" class="k"/><use href="#b" x="103" class="m"/><use href="#b" x="120" class="k"/><use href="#a" x="202" class="k"/><use href="#b" x="222" class="k"/><use href="#b" x="247" class="k"/><use href="#b" x="308" class="k"/><use href="#b" x="383"/><use href="#b" x="393"/><use href="#b" x="407" class="k"/><use href="#c" x="431"/><use href="#b" x="503" class="m"/><use href="#b" x="636"/><use href="#a" x="794" class="k"/><use href="#b" x="843" class="k"/><use href="#a" x="880" class="k"/><use href="#a" x="952"/></g>
<g transform="translate(0,722)"><use href="#d" x="28"/><use href="#b" x="28" class="k"/><use href="#c" x="62" class="m"/><use href="#a" x="80"/><use href="#c" x="103" class="k"/><use href="#c" x="119" class="k"/><use href="#b" x="138" class="k"/><use href="#a" x="205" class="k"/><use href="#a" x="226" class="k"/><use href="#a" x="247"/><use href="#b" x="273" class="k"/><use href="#a" x="297"/><use href="#b" x="358" class="k"/><use href="#b" x="380"/><use href="#b" x="400" class="k"/><use href="#a" x="425"/><use href="#c" x="455"/><use href="#a" x="640" class="k"/><use href="#c" x="655"/><use href="#b" x="707" class="m"/><use href="#a" x="743"/><use href="#b" x="767" class="k"/><use href="#b" x="830" class="k"/><use href="#c" x="843" class="m"/><use href="#c" x="880" class="k"/><use href="#a" x="960"/><use href="#b" x="1133"/><use href="#c" x="1167"/><use href="#a" x="1184"/><use href="#a" x="1215"/><use href="#a" x="1272"/></g>
<g transform="translate(0,752)"><use href="#f" x="25"/><use href="#d" x="25" class="k"/><use href="#c" x="65" class="k"/><use href="#c" x="90" class="k"/><use href="#e" x="115"/><use href="#c" x="115" class="k"/><use href="#c" x="132" class="k"/><use href="#b" x="180" class="k"/><use href="#c" x="206" class="k"/><use href="#c" x="218" class="k"/><use href="#c" x="232" class="k"/><use href="#d" x="248"/><use href="#c" x="272" class="k"/><use href="#c" x="290" class="k"/><use href="#c" x="315" class="k"/><use href="#c" x="354" class="k"/><use href="#c" x="388" class="k"/><use href="#c" x="400" class="k"/><use href="#c" x="420" class="k"/><use href="#d" x="460"/><use href="#c" x="460" class="k"/><use href="#c" x="521" class="k"/><use href="#c" x="532" class="k"/><use href="#c" x="541" class="k"/><use href="#b" x="593" class="k"/><use href="#d" x="630"/><use href="#b" x="643" class="k"/><use href="#b" x="663" class="k"/><use href="#c" x="700"/><use href="#b" x="737" class="k"/><use href="#c" x="767" class="k"/><use href="#c" x="804" class="k"/><use href="#d" x="842" class="k"/><use href="#c" x="880" class="k"/><use href="#b" x="918"/><use href="#d" x="955"/><use href="#b" x="955" class="m"/><use href="#b" x="995" class="k"/><use href="#c" x="1020"/><use href="#c" x="1036" class="k"/><use href="#c" x="1058" class="k"/><use href="#b" x="1103"/><use href="#d" x="1137" class="k"/><use href="#b" x="1176" class="k"/><use href="#c" x="1210" class="k"/><use href="#c" x="1250"/><use href="#f" x="1530"/><use href="#c" x="1530" class="k"/></g>
<g transform="translate(0,782)"><use href="#c" x="24" class="k"/><use href="#c" x="40" class="k"/><use href="#c" x="65" class="k"/><use href="#b" x="80" class="k"/><use href="#c" x="100" class="k"/><use href="#c" x="108" class="k"/><use href="#c" x="138" class="k"/><use href="#c" x="168" class="k"/><use href="#c" x="178" class="k"/><use href="#b" x="195"/><use href="#c" x="217" class="k"/><use href="#b" x="232" class="k"/><use href="#c" x="270" class="k"/><use href="#c" x="286" class="k"/><use href="#c" x="302" class="k"/><use href="#c" x="370"/><use href="#c" x="396" class="k"/><use href="#c" x="403" class="k"/><use href="#c" x="410" class="k"/><use href="#c" x="425" class="k"/><use href="#c" x="440" class="k"/><use href="#a" x="464"/><use href="#c" x="496" class="k"/><use href="#a" x="579"/><use href="#c" x="596" class="k"/><use href="#c" x="610" class="k"/><use href="#c" x="626" class="k"/><use href="#a" x="660"/><use href="#c" x="700"/><use href="#b" x="765" class="k"/><use href="#b" x="805" class="m"/><use href="#c" x="838" class="k"/><use href="#c" x="880" class="k"/><use href="#d" x="900" class="k"/><use href="#c" x="912"/><use href="#a" x="940"/><use href="#c" x="1010"/><use href="#d" x="1020" class="m"/><use href="#b" x="1055" class="k"/><use href="#b" x="1062" class="k"/><use href="#b" x="1100"/></g>
</g>
<rect id="highlight" x="749" y="2.5" width="16.3" height="554.5" fill="none" stroke="#ff0000" stroke-width="3.7" stroke-dasharray="28 6"/>
<text class="pl" x="4" y="575">(a)</text>
</g>

<g id="panel-b">
<rect class="frame" x="1095" y="1.2" width="1093.6" height="583.3"/>
<line x1="1094.8" y1="0" x2="1094.8" y2="585" stroke="#777" stroke-width="1.4"/>
<g id="names-b">
<text class="nr" x="1279" y="26.8">EDGARD ORI</text>
<text class="nr" x="1279" y="37.3">OMER KOUAKOU</text>
<text class="nr" x="1279" y="47.7">Adama FOLADJI</text>
<text class="nr" x="1279" y="58.2">Maho Wielfrid MORIE</text>
<text class="nr" x="1279" y="68.6">Sombie Bakary DIARRA</text>
<text class="nr" x="1279" y="79.1">DOGBO JEAN JUNIOR AKOUDJE</text>
<text class="nr" x="1279" y="89.5">ZAKARIA KONE</text>
<text class="nr" x="1279" y="100">APO CHIMENE MONSAN</text>
<text class="nr" x="1279" y="110.4">Beman Hamidja KAMAGATE</text>
<text class="nr" x="1279" y="120.9">Zacrada Françoise Odile TREY</text>
<text class="nr" x="1279" y="131.3">PONAHO CLAUDE KEZO</text>
<text class="nr" x="1279" y="141.8">Yao Serge YAO</text>
<text class="nr" x="1279" y="152.2">Koffi Ghislain PANDRY</text>
<text class="nr" x="1279" y="162.7">Gbede Sylvain GBAME</text>
<text class="nr" x="1279" y="173.1">KOFFI ARNAUD KAMENAN</text>
<text class="nr" x="1279" y="183.6">Patrick Ernest ANGUI-ANGO</text>
<text class="nr" x="1279" y="194">Roland Stéphane IBO</text>
<text class="nr" x="1279" y="204.5">ABOU BAKARY BALLO</text>
<text class="nr" x="1279" y="214.9">KODJO AMELEMAN FRANCIS ACQUAH</text>
<text class="nr" x="1279" y="225.4">Konan Didier YABLE</text>
<text class="nr" x="1279" y="235.8">Soubaya Moussa SOULAMA</text>
<text class="nr" x="1279" y="246.3">Digrais Moïse MAMBE</text>
<text class="nr" x="1279" y="256.7">N'GUESSAN FABRICE YAO</text>
<text class="nr" x="1279" y="267.2">mon.holo@uvci.edu.ciAMON KASSI HOLO</text>
<text class="nr" x="1279" y="277.6">NINDJIN MALAN ALAIN MICHEL</text>
<text class="nr" x="1279" y="288.1">ADJA OWO SERGE ALAIN</text>
<text class="nr" x="1279" y="298.5">EPSE YAO MARIAM OUATTARA</text>
<text class="nr" x="1279" y="309">philippe.kimenyi@uvci.edu.ci</text>
<text class="nr" x="1279" y="319.4">GONO DENON ARTHUR RICHMOND</text>
<text class="nr" x="1279" y="329.9">DIWATIE YEO</text>
<text class="nr" x="1279" y="340.3">ASSIE BROU IDA</text>
<text class="nr" x="1279" y="350.8">BATIONO ARISTIDE LAURENT FABRICE</text>
<text class="nr" x="1279" y="361.2">JOSEPH MAGLOIRE EBAH</text>
<text class="nr" x="1279" y="371.7">SOLEDJI THIERRY OUMAR</text>
<text class="nr" x="1279" y="382.1">KOUGNON LIONEL MODESTE YOHOU</text>
<text class="nr" x="1279" y="392.6">AKE FRANCK ROMEO KOUAMELAN</text>
<text class="nr" x="1279" y="403">ATTA KRA FRANÃ‡OIS</text>
<text class="nr" x="1279" y="413.5">COULIBALY ADAMA</text>
<text class="nr" x="1279" y="423.9">ASSEBLE JEAN DECOURT</text>
<text class="nr" x="1279" y="434.4">DABILA KOBENAN WILFRIED DESIRE</text>
<text class="nr" x="1279" y="444.8">BAH CELESTE</text>
<text class="nr" x="1279" y="455.3">VASSIRIKI CISSE</text>
<text class="nr" x="1279" y="465.7">EME ANDRONICUS FABRICE COULIBALY</text>
<text class="nr" x="1279" y="476.2">LUC DIE</text>
<text class="nr" x="1279" y="486.6">DELON LUCIEN SIAGBE</text>
<text class="nr" x="1279" y="497.1">LASSINA DOSSO</text>
<text class="nr" x="1279" y="507.5">Inconnu0</text>
<text class="nr" x="1279" y="518">ADAMA ADJANI AKANGBE</text>
<text class="nr" x="1279" y="528.4">AHOUA CYRILLE AKA</text>
<text class="nr" x="1279" y="538.9">YADOHO NOEL COULIBALY</text>
<text class="nr" x="1279" y="549.3">SYLLA IBRAHIM KALIL</text>
</g>
<g id="axes-b">
<path class="ax" d="M1280,20H1283V553.3"/>
<path class="ax" d="M1280,24.3h3m-3,10.45h3m-3,10.45h3m-3,10.45h3m-3,10.45h3m-3,10.45h3m-3,10.45h3m-3,10.45h3m-3,10.45h3m-3,10.45h3m-3,10.45h3m-3,10.45h3m-3,10.45h3m-3,10.45h3m-3,10.45h3m-3,10.45h3m-3,10.45h3m-3,10.45h3m-3,10.45h3m-3,10.45h3m-3,10.45h3m-3,10.45h3m-3,10.45h3m-3,10.45h3m-3,10.45h3m-3,10.45h3m-3,10.45h3m-3,10.45h3m-3,10.45h3m-3,10.45h3m-3,10.45h3m-3,10.45h3m-3,10.45h3m-3,10.45h3m-3,10.45h3m-3,10.45h3m-3,10.45h3m-3,10.45h3m-3,10.45h3m-3,10.45h3m-3,10.45h3m-3,10.45h3m-3,10.45h3m-3,10.45h3m-3,10.45h3m-3,10.45h3m-3,10.45h3m-3,10.45h3m-3,10.45h3m-3,10.45h3"/>
<rect class="band" x="1285.5" y="553.8" width="811.5" height="23.5"/>
<path class="ax" d="M1285.5,556.3V553.3H2097.5V556.3M1348.5,553.3v3M1435,553.3v3M1521.4,553.3v3M1607.9,553.3v3M1694.4,553.3v3M1780.9,553.3v3M1867.3,553.3v3M1953.8,553.3v3M2040.3,553.3v3"/>
<text class="tl" x="1348.5" y="562">02:45</text>
<text class="tl" x="1435" y="562">03 PM</text>
<text class="tl" x="1521.4" y="562">03:15</text>
<text class="tl" x="1607.9" y="562">03:30</text>
<text class="tl" x="1694.4" y="562">03:45</text>
<text class="tl" x="1780.9" y="562">04 PM</text>
<text class="tl" x="1867.3" y="562">04:15</text>
<text class="tl" x="1953.8" y="562">04:30</text>
<text class="tl" x="2040.3" y="562">04:45</text>
</g>
<g id="dots-b-top" class="dots rb" transform="translate(1280,0) scale(0.58038,0.33333)">
<g transform="translate(0,73)"><use href="#C" x="352"/></g>
<g transform="translate(0,138)"><use href="#A" x="338"/><use href="#A" x="352"/><use href="#C" x="368"/><use href="#B" x="376" class="m"/><use href="#D" x="407"/><use href="#C" x="436" class="m"/><use href="#A" x="452"/><use href="#B" x="460"/><use href="#C" x="484"/><use href="#C" x="742"/><use href="#A" x="862"/><use href="#B" x="1010"/><use href="#A" x="1017"/><use href="#A" x="1027"/><use href="#A" x="1133"/></g>
<g transform="translate(0,170)"><use href="#B" x="825"/><use href="#C" x="839"/><use href="#B" x="858"/></g>
<g transform="translate(0,201)"><use href="#A" x="977"/><use href="#C" x="1033"/><use href="#D" x="1069" class="m"/><use href="#A" x="1078"/></g>
<g transform="translate(0,232)"><use href="#B" x="709"/><use href="#B" x="733"/><use href="#B" x="766" class="l"/><use href="#C" x="911"/><use href="#C" x="1003" class="m"/><use href="#B" x="1013"/><use href="#A" x="1138"/></g>
<g transform="translate(0,420)"><use href="#A" x="250"/><use href="#D" x="341"/><use href="#B" x="382"/><use href="#C" x="430"/><use href="#B" x="448"/><use href="#A" x="455" class="m"/><use href="#B" x="486"/><use href="#B" x="568"/><use href="#B" x="576"/><use href="#B" x="622"/><use href="#B" x="635"/><use href="#D" x="684"/><use href="#C" x="716"/></g>
<g transform="translate(0,483)"><use href="#A" x="966" class="k"/></g>
<g transform="translate(0,607)"><use href="#C" x="1383"/></g>
<g transform="translate(0,639)"><use href="#A" x="308"/><use href="#D" x="382"/><use href="#B" x="421"/><use href="#B" x="456"/><use href="#B" x="470"/><use href="#B" x="484"/></g>
<g transform="translate(0,670)"><use href="#B" x="734"/><use href="#D" x="769"/><use href="#B" x="784"/><use href="#B" x="829"/><use href="#C" x="846"/><use href="#B" x="861"/><use href="#C" x="886"/><use href="#B" x="966"/><use href="#B" x="1010"/><use href="#B" x="1031"/><use href="#B" x="1053"/><use href="#B" x="1119"/></g>
<g transform="translate(0,764)"><use href="#B" x="720" class="m"/><use href="#B" x="773"/><use href="#C" x="804"/><use href="#B" x="811" class="m"/></g>
<g transform="translate(0,826)"><use href="#A" x="298"/><use href="#C" x="433"/><use href="#B" x="499" class="m"/><use href="#A" x="568"/><use href="#A" x="578"/><use href="#B" x="590"/><use href="#B" x="598"/><use href="#B" x="607" class="m"/><use href="#C" x="716"/><use href="#A" x="760"/><use href="#B" x="768"/><use href="#B" x="779"/><use href="#B" x="794" class="m"/><use href="#B" x="825"/><use href="#B" x="844"/><use href="#A" x="867"/><use href="#B" x="890"/><use href="#B" x="900" class="m"/><use href="#A" x="912"/></g>
</g>
<g id="dots-b-bottom" class="dots rb" transform="translate(1280,290) scale(0.58038,0.33333)">
<g transform="translate(0,82)"><use href="#B" x="577"/><use href="#B" x="598" class="m"/><use href="#B" x="606"/></g>
<g transform="translate(0,144)"><use href="#A" x="343"/><use href="#B" x="352"/><use href="#B" x="358" class="m"/><use href="#B" x="382"/><use href="#C" x="458"/><use href="#C" x="531"/><use href="#A" x="548"/><use href="#B" x="565"/><use href="#C" x="690"/><use href="#C" x="719"/><use href="#B" x="766"/><use href="#A" x="846"/></g>
<g transform="translate(0,176)"><use href="#B" x="293"/></g>
<g transform="translate(0,238)"><use href="#B" x="301"/><use href="#C" x="347"/><use href="#B" x="525"/><use href="#B" x="538"/><use href="#C" x="576"/><use href="#A" x="672"/><use href="#D" x="719"/><use href="#C" x="772"/><use href="#C" x="788"/><use href="#D" x="851"/><use href="#B" x="855" class="m"/><use href="#C" x="925"/></g>
<g transform="translate(0,332)"><use href="#C" x="552"/><use href="#B" x="689"/><use href="#C" x="740"/></g>
<g transform="translate(0,363)"><use href="#B" x="1318"/></g>
<g transform="translate(0,395)"><use href="#A" x="264"/><use href="#C" x="338"/><use href="#B" x="417" class="l"/><use href="#B" x="590"/><use href="#B" x="751" class="m"/><use href="#B" x="784"/><use href="#A" x="843"/><use href="#B" x="899"/><use href="#C" x="912"/><use href="#B" x="933"/><use href="#A" x="945"/><use href="#B" x="960"/><use href="#B" x="1153"/></g>
<g transform="translate(0,426)"><use href="#B" x="241" class="m"/><use href="#A" x="285"/><use href="#D" x="326"/><use href="#A" x="375"/><use href="#B" x="533"/><use href="#A" x="571"/><use href="#D" x="756"/></g>
<g transform="translate(0,458)"><use href="#B" x="288"/><use href="#B" x="383" class="m"/><use href="#A" x="434"/><use href="#C" x="451" class="m"/><use href="#B" x="474"/><use href="#C" x="485"/><use href="#B" x="510" class="m"/><use href="#B" x="515"/><use href="#B" x="528"/><use href="#B" x="540"/><use href="#A" x="573"/><use href="#B" x="702" class="m"/><use href="#B" x="716"/><use href="#B" x="738" class="m"/><use href="#A" x="1114"/><use href="#B" x="1136"/></g>
<g transform="translate(0,520)"><use href="#A" x="312"/><use href="#B" x="353"/><use href="#A" x="379"/><use href="#A" x="1136"/></g>
<g transform="translate(0,583)"><use href="#D" x="725" class="l"/></g>
<g transform="translate(0,645)"><use href="#B" x="243"/><use href="#C" x="345"/><use href="#C" x="471"/><use href="#B" x="485" class="l"/><use href="#A" x="565"/><use href="#A" x="690"/><use href="#B" x="726"/><use href="#B" x="773" class="m"/><use href="#B" x="792"/><use href="#B" x="823"/><use href="#A" x="870"/><use href="#B" x="897"/><use href="#B" x="935"/><use href="#A" x="957" class="m"/></g>
<g transform="translate(0,677)"><use href="#B" x="994"/><use href="#C" x="1077"/><use href="#C" x="1142" class="m"/></g>
<g transform="translate(0,708)"><use href="#A" x="343"/><use href="#B" x="384" class="m"/><use href="#B" x="499"/><use href="#C" x="537"/><use href="#C" x="789"/><use href="#A" x="876"/></g>
<g transform="translate(0,739)"><use href="#B" x="237" class="m"/><use href="#C" x="278"/><use href="#B" x="298"/><use href="#A" x="330"/><use href="#C" x="372" class="m"/><use href="#B" x="386"/><use href="#B" x="401"/><use href="#B" x="415" class="m"/><use href="#B" x="447"/><use href="#B" x="460"/><use href="#C" x="472"/><use href="#C" x="488"/><use href="#B" x="503" class="m"/><use href="#B" x="521"/><use href="#C" x="547" class="m"/><use href="#B" x="560"/><use href="#B" x="590"/><use href="#B" x="600"/><use href="#B" x="650" class="m"/><use href="#B" x="673" class="m"/><use href="#C" x="708"/><use href="#C" x="740" class="m"/><use href="#B" x="762"/><use href="#B" x="775"/><use href="#C" x="815" class="m"/><use href="#C" x="825"/><use href="#B" x="840"/><use href="#B" x="857"/><use href="#C" x="900" class="m"/><use href="#B" x="930"/><use href="#B" x="955"/><use href="#B" x="975" class="m"/><use href="#C" x="1017"/><use href="#B" x="1045"/><use href="#B" x="1078"/><use href="#B" x="1090"/><use href="#C" x="1115"/><use href="#B" x="1125"/><use href="#B" x="1152" class="m"/></g>
<g transform="translate(0,770)"><use href="#B" x="241"/><use href="#A" x="285"/><use href="#B" x="477"/><use href="#C" x="496"/><use href="#B" x="523"/><use href="#D" x="748"/><use href="#C" x="764"/><use href="#D" x="925"/><use href="#B" x="993" class="m"/><use href="#A" x="1017"/><use href="#A" x="1025"/></g>
</g>
<circle id="selected" cx="1825.5" cy="223.3" r="5" fill="#f87474"/>
<g id="tooltip" class="tip">
<rect x="1830" y="233.3" width="287" height="142.7" fill="#f9e79f"/>
<text x="1836" y="249">Info:Thu Aug 02 2018 16:07:51 GMT+0200</text>
<text x="1836" y="264.3">(Central European Summer Time)</text>
<text x="1836" y="279.7">Name: Konan Didier YABLE</text>
<text x="1836" y="295">Message:M.ASSEBLE, si le problème de l'absence</text>
<text x="1836" y="310.3">n'est pas bien traité, nous tournerons en rond. Il</text>
<text x="1836" y="325.7">faut l'implication de tous les acteurs de l'uvci afin</text>
<text x="1836" y="341">de trouver la meilleure solution. Je ne suis pas</text>
<text x="1836" y="356.3">sceptique mais un problème bien maîtrisé, trouve</text>
<text x="1836" y="371.7">une meilleure solution.</text>
</g>
<text class="pl" x="1103" y="575">(b)</text>
</g>
</svg>
